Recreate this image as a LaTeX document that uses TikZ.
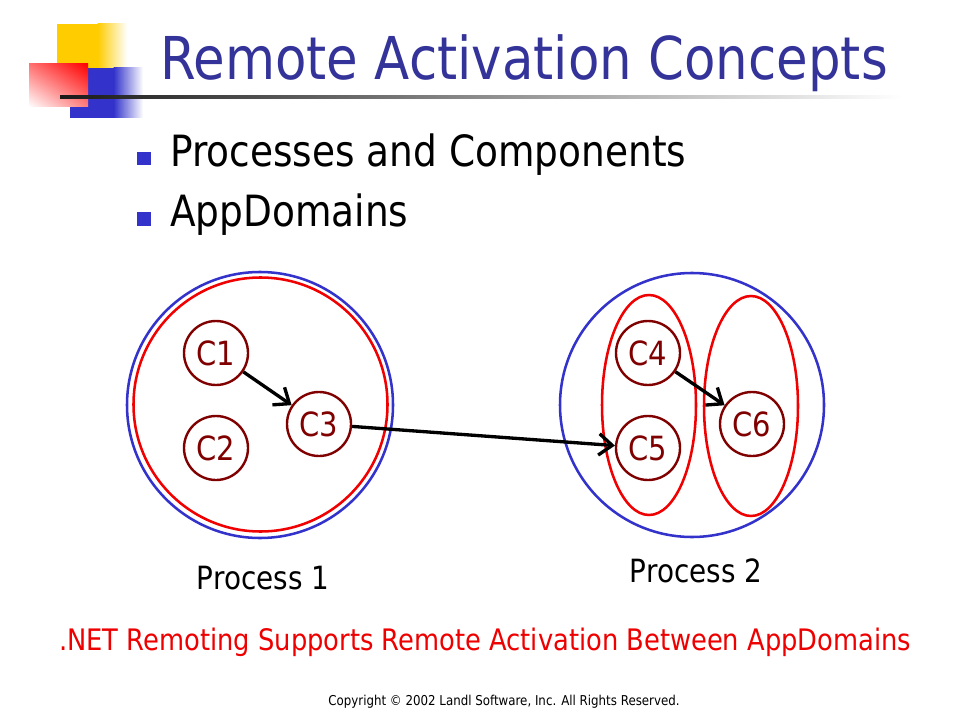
\documentclass[tikz,border=0pt]{standalone}
\usepackage{fontspec}
\setmainfont{DejaVu Sans}[FakeStretch=0.87]
\usetikzlibrary{arrows.meta,shadings}
\definecolor{titleblue}{HTML}{333399}
\definecolor{bulletblue}{HTML}{3333CC}
\definecolor{ringblue}{HTML}{3333CC}
\definecolor{ringred}{HTML}{F00000}
\definecolor{compred}{HTML}{800000}
\definecolor{logoyellow}{HTML}{FFCC00}
\definecolor{logored}{HTML}{FF0000}
\definecolor{notered}{HTML}{EE0000}
\tikzset{
  comp/.style={circle, draw=compred, line width=1.8pt, minimum size=48pt, inner sep=0pt,
    text=compred, font=\fontsize{25}{28}\selectfont},
  link/.style={line width=2.5pt, -{Straight Barb[length=10pt,width=16pt,line width=2.5pt]}},
  procring/.style={draw=ringblue, line width=1.9pt},
  domring/.style={draw=ringred, line width=1.9pt},
  plabel/.style={font=\fontsize{24}{28}\selectfont, anchor=base, inner sep=0pt},
}
\begin{document}
\begin{tikzpicture}[x=0.75pt,y=-0.75pt]
\useasboundingbox (0,0) rectangle (960,720);
\fill[white] (0,0) rectangle (960,720);
% logo
\fill[logoyellow] (57,24) rectangle (98,68);
\shade[left color=logoyellow, right color=white] (97.5,24) rectangle (127,68);
\fill[bulletblue] (70,68) rectangle (114,118);
\shade[left color=bulletblue, right color=white] (113.5,68) rectangle (143,118);
\shade[upper right=logored, upper left=logored!55, lower right=logored!50, lower left=white] (29,64) rectangle (88,107);
\shade[left color=black!90, right color=white] (60,95.5) rectangle (902,98.5);
% title
\node[anchor=base west, inner sep=0pt, text=titleblue, font=\fontsize{44.3}{50}\selectfont] (title) at (160,80) {Remote Activation Concepts};
% bullets
\fill[bulletblue] (137,152) rectangle (151,165);
\fill[bulletblue] (137,212) rectangle (151,226);
\node[anchor=base west, inner sep=0pt, font=\fontsize{32.3}{36}\selectfont] (b1) at (170,167) {Processes and Components};
\node[anchor=base west, inner sep=0pt, font=\fontsize{32.3}{36}\selectfont] (b2) at (170,227) {AppDomains};
% process 1
\draw[procring] (260,405) circle [radius=133];
\draw[domring] (260.5,404.5) circle [radius=127];
\node[comp] (c1) at (216,353) {C1};
\node[comp] (c2) at (216,448) {C2};
\node[comp] (c3) at (319,424) {C3};
% process 2
\draw[procring] (692,405) circle [radius=132];
\draw[domring] (649,405) ellipse [x radius=47, y radius=110];
\draw[domring] (751,406) ellipse [x radius=47, y radius=110];
\node[comp] (c4) at (648,353) {C4};
\node[comp] (c5) at (648,448) {C5};
\node[comp] (c6) at (752,424) {C6};
% connectors
\draw[link] (c1) -- (c3);
\draw[link] (c3) -- (c5);
\draw[link] (c4) -- (c6);
% labels
\node[plabel] (p1) at (263,589) {Process 1};
\node[plabel] (p2) at (696,582) {Process 2};
\node[anchor=base west, inner sep=0pt, text=notered, font=\fontsize{22.2}{26}\selectfont] (note) at (59,650) {.NET Remoting Supports Remote Activation Between AppDomains};
\node[anchor=base, inner sep=0pt, font=\fontsize{10.2}{12}\selectfont] (copy) at (504,705) {Copyright © 2002 Landl Software, Inc. All Rights Reserved.};
\end{tikzpicture}
\end{document}
